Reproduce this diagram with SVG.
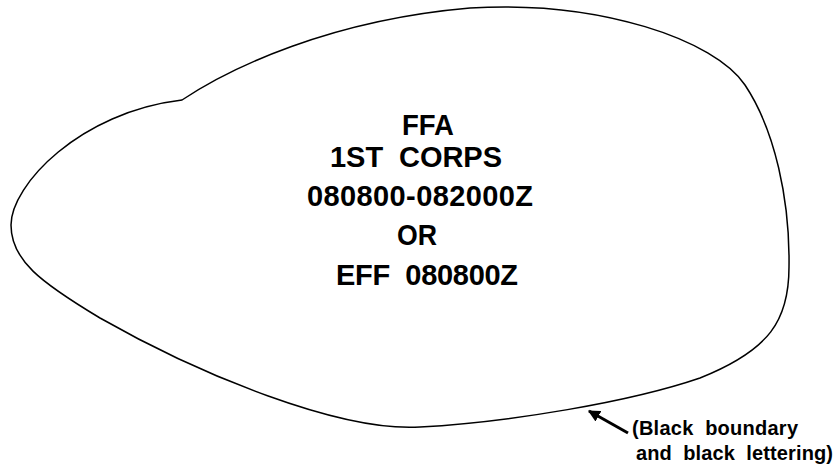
<svg xmlns="http://www.w3.org/2000/svg" width="838" height="470" viewBox="0 0 838 470">
<style>
.bnd{fill:none;stroke:#000;stroke-width:1.5;stroke-linejoin:round}
.t{font-family:"Liberation Sans",Arial,sans-serif;font-weight:bold;fill:#000;white-space:pre}
.big{font-size:29px}
.small{font-size:20px}
.conn{stroke:#000;stroke-width:3;fill:none}
</style>
<defs>
<marker id="ah" viewBox="0 0 10 10" refX="9" refY="5" markerWidth="4" markerHeight="4" orient="auto" markerUnits="strokeWidth">
<path d="M0,0 L10,5 L0,10 z" fill="#000"/>
</marker>
</defs>
<rect width="838" height="470" fill="#fff"/>
<g id="ffa-area">
<path class="bnd" d="M182,100 C230,68 330,20 470,8 C600,0 715,40 745,85 C775,130 790,200 789,267 C789,320 770,350 700,378 C630,402 510,422 420,427 C340,432 200,375 100,318 C40,282 11,260 11,225 C11,185 80,112 182,100 Z"/>
<text class="t big" x="402" y="135" textLength="52" lengthAdjust="spacingAndGlyphs">FFA</text>
<text class="t big" x="330" y="167" textLength="172" lengthAdjust="spacing">1ST  CORPS</text>
<text class="t big" x="307" y="206" textLength="226" lengthAdjust="spacing">080800-082000Z</text>
<text class="t big" x="397" y="245" textLength="40" lengthAdjust="spacingAndGlyphs">OR</text>
<text class="t big" x="336" y="285" textLength="182" lengthAdjust="spacing">EFF  080800Z</text>
</g>
<g id="note">
<text class="t small" x="632" y="435" textLength="166" lengthAdjust="spacing">(Black  boundary</text>
<text class="t small" x="636" y="460" textLength="197" lengthAdjust="spacing">and  black  lettering)</text>
</g>
<g id="connectors">
<line class="conn" x1="628" y1="433" x2="589" y2="411" marker-end="url(#ah)"/>
</g>
</svg>
